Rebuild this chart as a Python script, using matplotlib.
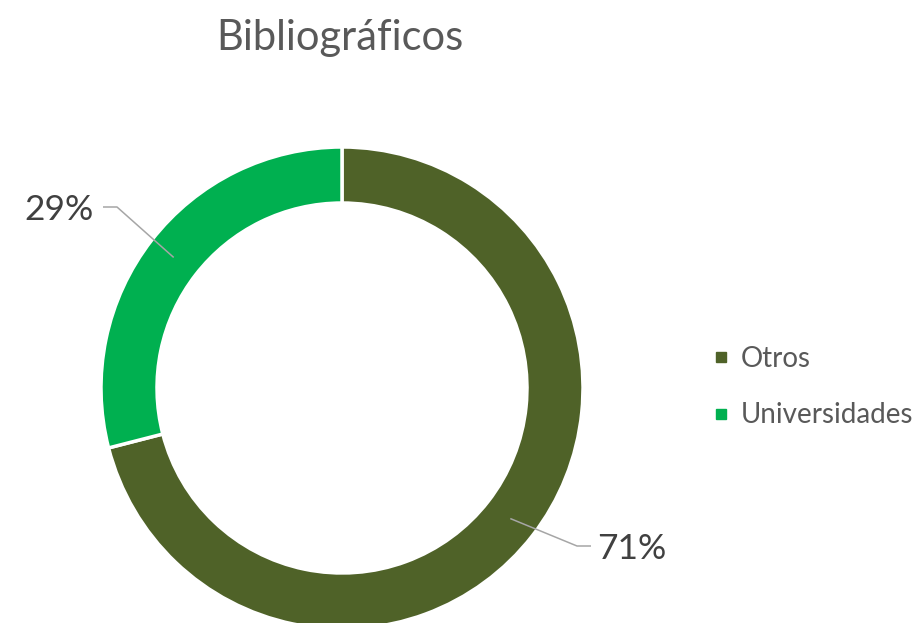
import numpy as np
import matplotlib
matplotlib.use("Agg")
import matplotlib.pyplot as plt
from matplotlib.lines import Line2D

title = "Bibliográficos"
categories = ["Otros", "Universidades"]
values = [71, 29]
labels = ["71%", "29%"]
colors = ["#4F6228", "#00B050"]

plt.rcParams['font.family'] = ['Lato', 'DejaVu Sans']

W, H = 920, 623
fig = plt.figure(figsize=(W / 100, H / 100), dpi=100)
ax = fig.add_axes([0, 0, 1, 1])

cx, cy = 342, H - 388
R, ring = 241, 56
wedges, _ = ax.pie(values, colors=colors, startangle=90, counterclock=False,
                   radius=R, center=(cx, cy),
                   wedgeprops=dict(width=ring, edgecolor='white', linewidth=2.5))
ax.set_xlim(0, W)
ax.set_ylim(0, H)
ax.set_aspect('equal')
ax.axis('off')

# label layout: (elbow, line end, text x, ha)
layout = {
    "Otros": ((577, H - 546), (591, H - 546), 597, 'left'),
    "Universidades": ((117, H - 207), (103, H - 207), 94, 'right'),
}
rmid = R - ring / 2
for w, cat, lab in zip(wedges, categories, labels):
    mid = np.deg2rad((w.theta1 + w.theta2) / 2)
    p0 = (cx + rmid * np.cos(mid), cy + rmid * np.sin(mid))
    elbow, end, tx, ha = layout[cat]
    ax.plot([p0[0], elbow[0], end[0]], [p0[1], elbow[1], end[1]],
            color='#a6a6a6', lw=1.1, solid_capstyle='butt')
    ax.text(tx, end[1], lab, ha=ha, va='center_baseline', fontsize=25.5,
            color='#404040')

fig.text(340 / W, 1 - 38 / H, title, ha='center', va='center',
         fontsize=30, color='#595959')

handles = [Line2D([], [], marker='s', linestyle='none', markersize=7.5,
                  markerfacecolor=c, markeredgecolor=c) for c in colors]
leg = ax.legend(handles, categories, loc='center left',
                bbox_to_anchor=(713 / W, 1 - 387 / H),
                bbox_transform=fig.transFigure, frameon=False,
                fontsize=20, labelspacing=1.1, handlelength=0.6,
                handletextpad=0.4, borderpad=0, borderaxespad=0)
for t in leg.get_texts():
    t.set_color('#595959')

fig.savefig("out.png", dpi=100)
